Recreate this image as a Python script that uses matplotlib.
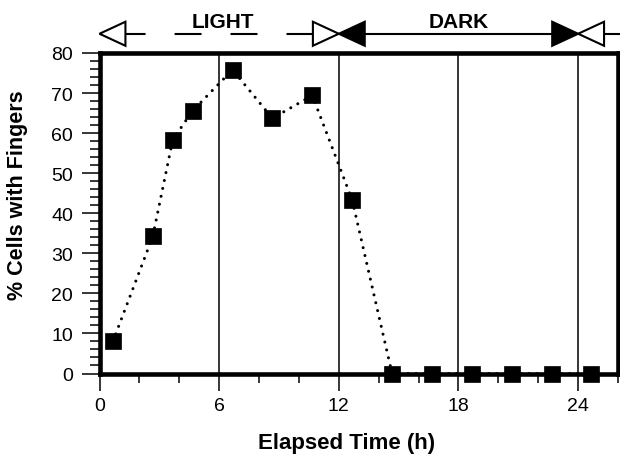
import matplotlib
matplotlib.use('Agg')
import matplotlib.pyplot as plt
from matplotlib.patches import Polygon
from matplotlib.ticker import MultipleLocator

plt.rcParams['font.family'] = ['Liberation Sans', 'DejaVu Sans']
plt.rcParams['lines.scale_dashes'] = False

# Data
hours = [0.67, 2.67, 3.67, 4.67, 6.67, 8.67, 10.67, 12.67,
         14.67, 16.67, 18.67, 20.67, 22.67, 24.67]
pct_fingers = [8.0, 34.2, 58.3, 65.6, 75.8, 63.7, 69.4, 43.3,
               0, 0, 0, 0, 0, 0]

# light / dark periods (start, end) shown above the plot
periods = [('LIGHT', 0, 12), ('DARK', 12, 24), ('LIGHT', 24, 36)]
grid_hours = [6, 12, 18, 24]

fig = plt.figure(figsize=(6.2, 4.56), dpi=100)
ax = fig.add_axes([0.1605, 0.1787, 0.8363, 0.7029])

for g in grid_hours:
    ax.axvline(g, color='black', lw=1.1, zorder=1)

ax.plot(hours, pct_fingers, color='black', lw=2.2, ls=(0, (0.01, 5.8)),
        dash_capstyle='round', marker='s', ms=11.5, mfc='black', mec='black',
        mew=0.5, clip_on=False, zorder=4)

ax.set_xlim(0, 26)
ax.set_ylim(0, 80)
ax.xaxis.set_major_locator(MultipleLocator(6))
ax.xaxis.set_minor_locator(MultipleLocator(2))
ax.yaxis.set_major_locator(MultipleLocator(10))
ax.yaxis.set_minor_locator(MultipleLocator(2))

for s in ax.spines.values():
    s.set_linewidth(3.3)
ax.tick_params(axis='both', which='both', direction='out', width=1.1,
               labelsize=14, colors='black')
ax.tick_params(axis='y', which='major', length=13, pad=6)
ax.tick_params(axis='y', which='minor', length=7.5)
ax.tick_params(axis='x', which='major', length=12, pad=5)
ax.tick_params(axis='x', which='minor', length=6.5)

ax.set_xlabel('Elapsed Time (h)', fontsize=16, fontweight='bold')
ax.set_ylabel('% Cells with Fingers', fontsize=15.5, fontweight='bold')
ax.xaxis.set_label_coords(0.477, -0.181)
ax.yaxis.set_label_coords(-0.137, 0.56)

# top annotation: arrows for light and dark periods
arr_y = 84.8
head_len = 1.3
head_h = 3.0


def head(tip, direction, filled):
    # direction -1 points left, +1 points right
    base = tip - direction * head_len
    tri = Polygon([(tip, arr_y), (base, arr_y + head_h), (base, arr_y - head_h)],
                  closed=True, facecolor='black' if filled else 'white',
                  edgecolor='black', lw=1.5, clip_on=False, zorder=5)
    ax.add_patch(tri)
    return base


for name, start, end in periods:
    filled = name == 'DARK'
    b0 = head(start, -1, filled)
    if end <= 26:
        b1 = head(end, 1, filled)
    else:
        b1 = 26.2
    if name == 'LIGHT' and end <= 26:
        ax.plot([b0, b1], [arr_y, arr_y], color='black', lw=1.5,
                ls=(4.6, (19.4, 20.9)), clip_on=False, zorder=4)
    else:
        ax.plot([b0, b1], [arr_y, arr_y], color='black', lw=1.5,
                clip_on=False, zorder=4)
    if end <= 26:
        ax.text((start + end) / 2 + (0.2 if name == 'LIGHT' else 0), 87.9, name,
                ha='center', va='center', fontsize=15, fontweight='bold')

fig.savefig('out.png', dpi=100)
